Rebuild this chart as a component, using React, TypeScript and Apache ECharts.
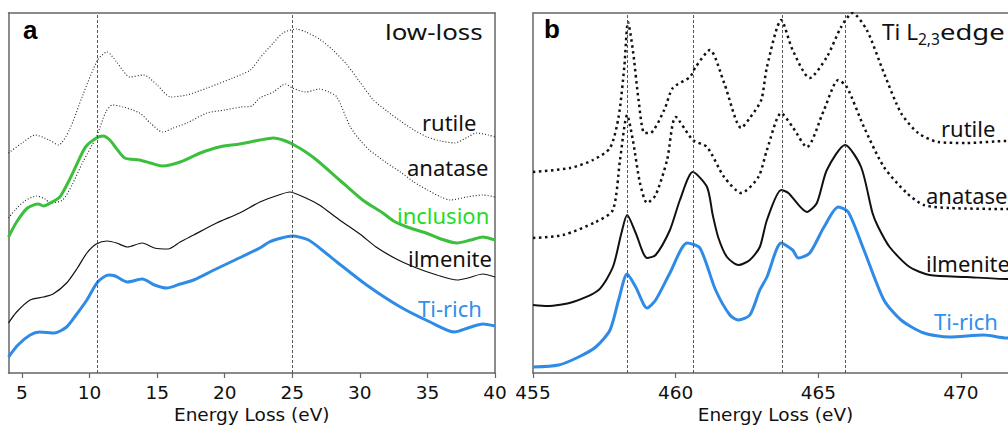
import React, { useEffect, useRef } from "react";
import * as echarts from "echarts";

// ---------- Panel a: low-loss (Energy Loss eV, intensity a.u.) ----------
const lowLossTicks = [5, 10, 15, 20, 25, 30, 35, 40];
const lowLossMarks = [10.6, 25.0];

const aRutile = [
  [4, 220], [5, 230], [6, 238], [7, 233], [7.7, 228], [8.5, 243], [9.5, 278], [10.6, 313],
  [11.3, 321], [12, 311], [13, 296], [14, 298], [15, 288], [16, 276], [17.2, 278], [18.7, 285],
  [20.6, 295], [21.9, 303], [22.6, 315], [23.6, 330], [24.3, 340], [25.3, 344], [26, 341],
  [27, 334], [28, 323], [29, 309], [30, 291], [31, 273], [32, 262], [33, 252], [34, 243],
  [35, 236], [36, 232], [37, 230], [38, 236], [38.6, 240], [39.5, 238], [40, 236],
];
const aAnatase = [
  [4, 155], [4.5, 163], [5.2, 172], [6.1, 177], [6.7, 174], [7.1, 170], [8, 173], [8.7, 188],
  [9.5, 211], [10.5, 236], [11.2, 261], [11.7, 268], [12.5, 266], [13.7, 260], [14.5, 250],
  [15.4, 241], [16.2, 245], [17.2, 250], [18.7, 260], [20, 263], [21.2, 266], [22, 267],
  [22.6, 275], [23.6, 281], [24.5, 289], [25, 285], [26, 281], [27, 284], [27.7, 281],
  [28.3, 276], [29.3, 246], [30, 233], [30.7, 223], [32, 210], [33, 201], [34, 191], [35, 183],
  [36, 176], [36.7, 173], [37.9, 176], [39.1, 178], [40, 176],
];
const aInclusion = [
  [4, 136], [4.6, 151], [5.4, 165], [6.2, 169], [6.6, 167], [7.1, 170], [7.8, 176], [8.5, 193],
  [9.1, 210], [9.7, 226], [10.5, 235], [11.0, 237], [11.5, 233], [11.9, 226], [12.6, 215],
  [13.7, 213], [14.5, 210], [15.4, 207], [16.7, 211], [18.2, 220], [19.6, 226], [21.1, 229],
  [22.6, 233], [23.6, 235], [24.3, 233], [25.0, 229], [26, 221], [26.8, 213], [28.5, 193],
  [30.2, 173], [31.7, 160], [32.5, 152], [33.5, 146], [34.9, 140], [36, 134], [37.2, 130],
  [38.2, 133], [39.1, 136], [40, 133],
];
const aIlmenite = [
  [4, 50], [4.6, 61], [5.6, 73], [6.6, 76], [7.3, 79], [8.3, 90], [9.1, 105], [9.8, 120],
  [10.5, 129], [11.3, 132], [12, 130], [12.8, 126], [13.9, 130], [14.8, 125], [15.8, 124],
  [16.7, 131], [17.7, 138], [19.4, 150], [21.1, 160], [22.6, 171], [24, 178], [24.8, 181],
  [26, 175], [27, 168], [28.5, 153], [30, 139], [31.2, 126], [32.7, 114], [34.2, 105],
  [35.7, 98], [37.2, 93], [38, 95], [39.1, 99], [40, 96],
];
const aTiRich = [
  [4, 16], [4.7, 28], [5.6, 38], [6.3, 41], [7.4, 40], [8.3, 46], [9, 58], [9.8, 73],
  [10.6, 91], [11.4, 98], [11.9, 97], [12.8, 91], [13.9, 94], [14.8, 88], [15.7, 85],
  [16.7, 89], [17.7, 93], [19.2, 103], [20.6, 112], [22.6, 125], [23.3, 131], [24.2, 135],
  [25.0, 137], [26.2, 133], [27.2, 123], [28.3, 111], [30.5, 88], [33, 66], [35.2, 51],
  [37, 41], [38, 45], [39.1, 49], [40, 47],
];

// ---------- Panel b: Ti L2,3 edge ----------
const edgeTicks = [455, 460, 465, 470];
const edgeMarks = [458.31, 460.62, 463.72, 465.94];

const bRutile = [
  [455, 201], [456.3, 205], [457.1, 213], [457.7, 225], [458.0, 256], [458.2, 306],
  [458.33, 351], [458.5, 323], [458.7, 273], [458.9, 240], [459.1, 240], [459.6, 263],
  [459.9, 285], [460.5, 296], [460.7, 306], [461.2, 323], [461.7, 290], [462.3, 245],
  [462.6, 255], [463.0, 273], [463.2, 306], [463.7, 353], [464.1, 323], [464.7, 295],
  [465.3, 316], [465.8, 346], [466.2, 360], [466.7, 343], [467.3, 300], [467.9, 260],
  [468.5, 240], [469.2, 231], [470.2, 230], [471.6, 232], [472, 232],
];
const bAnatase = [
  [455, 135], [456.05, 138], [457.2, 151], [457.8, 163], [458.05, 213], [458.3, 258],
  [458.5, 233], [458.75, 190], [459.0, 170], [459.3, 178], [459.7, 213], [460.0, 256],
  [460.6, 233], [461.1, 226], [461.7, 196], [462.3, 180], [462.9, 196], [463.2, 223],
  [463.7, 260], [464.1, 246], [464.6, 226], [465.2, 263], [465.7, 293], [466.0, 286],
  [466.6, 246], [467.3, 206], [468.1, 180], [468.7, 168], [469.6, 165], [471.6, 164], [472, 164],
];
const bIlmenite = [
  [455, 68], [455.5, 67], [456.4, 71], [457.3, 83], [457.8, 106], [458.1, 140], [458.3, 158],
  [458.6, 140], [459.0, 115], [459.3, 118], [459.8, 143], [460.15, 173], [460.6, 201],
  [461.1, 186], [461.3, 158], [461.5, 135], [461.8, 116], [462.2, 108], [462.6, 113],
  [462.95, 126], [463.2, 153], [463.7, 183], [463.95, 180], [464.6, 161], [464.95, 170],
  [465.3, 203], [465.94, 228], [466.5, 206], [466.9, 160], [467.1, 146], [467.5, 126],
  [468.2, 106], [468.9, 98], [470.2, 96], [471.6, 94], [472, 94],
];
const bTiRich = [
  [455, 6], [455.9, 8], [456.6, 16], [457.2, 26], [457.7, 43], [458.0, 73], [458.3, 99],
  [458.6, 86], [459.0, 65], [459.3, 73], [459.8, 100], [460.4, 130], [460.85, 125],
  [461.4, 83], [461.9, 58], [462.2, 53], [462.6, 58], [462.95, 83], [463.2, 96], [463.7, 130],
  [464.1, 123], [464.3, 115], [464.7, 120], [465.2, 146], [465.7, 166], [466.05, 161],
  [466.6, 123], [467.3, 73], [467.9, 53], [468.7, 40], [469.6, 36], [470.8, 38], [471.6, 35], [472, 35],
];

const FRAME = "#666";
const GREEN_LINE = "#3cbf3c";
const GREEN_TEXT = "#22dd22";
const BLUE_LINE = "#2f8be6";
const BLUE_TEXT = "#2f90ee";
const LABEL_FONT = "'Noto Sans', 'Open Sans', sans-serif";
const TICK_FONT = "'DejaVu Sans', sans-serif";

export default function App() {
  const ref = useRef<HTMLDivElement>(null);
  useEffect(() => {
    if (!ref.current) return;
    const chart = echarts.init(ref.current, null, { renderer: "svg" });

    const bottomAxis = (gridIndex: number, min: number, max: number, ticks: number[]) => ({
      type: "value",
      gridIndex,
      min,
      max,
      position: "bottom",
      name: "Energy Loss (eV)",
      nameLocation: "middle",
      nameGap: 32,
      nameMoveOverlap: false,
      nameTextStyle: { fontFamily: TICK_FONT, fontSize: 18.5, color: "#111" },
      axisLine: { show: true, onZero: false, lineStyle: { color: FRAME, width: 1.5 } },
      axisTick: { show: true, length: 5, inside: false, customValues: ticks, lineStyle: { color: FRAME, width: 1.2 } },
      axisLabel: { show: true, customValues: ticks, margin: 10, fontFamily: TICK_FONT, fontSize: 18.5, color: "#111", showMinLabel: true, showMaxLabel: true, hideOverlap: false },
      splitLine: { show: false },
    });
    const topAxis = (gridIndex: number, min: number, max: number) => ({
      type: "value",
      gridIndex,
      min,
      max,
      position: "top",
      axisLine: { show: true, onZero: false, lineStyle: { color: FRAME, width: 1.5 } },
      axisTick: { show: false },
      axisLabel: { show: false },
      splitLine: { show: false },
    });
    const yAx = (gridIndex: number, position: string, show: boolean) => ({
      type: "value",
      gridIndex,
      min: 0,
      max: 360,
      position,
      axisLine: { show, onZero: false, lineStyle: { color: FRAME, width: 1.5 } },
      axisTick: { show: false },
      axisLabel: { show: false },
      splitLine: { show: false },
    });

    const markLine = (vals: number[]) => ({
      silent: true,
      symbol: "none",
      label: { show: false },
      lineStyle: { type: [3, 2], color: "#444", width: 0.9 },
      data: vals.map((v) => ({ xAxis: v })),
    });

    const line = (data: number[][], xi: number, yi: number, color: string, width: number, type: any, extra: any = {}) => ({
      type: "line",
      data,
      xAxisIndex: xi,
      yAxisIndex: yi,
      showSymbol: false,
      smooth: 0.25,
      lineStyle: { color, width, type, cap: "butt" },
      z: 3,
      ...extra,
    });

    const txt = (text: string, x: number, y: number, color = "#111", fontSize = 22, scaleX = 1) => ({
      type: "text",
      x,
      y,
      scaleX,
      style: { text, fill: color, fontSize, fontFamily: LABEL_FONT, verticalAlign: "middle", align: "left" },
      z: 10,
    });

    chart.setOption({
      animation: false,
      backgroundColor: "#fff",
      grid: [
        { left: 8.5, top: 13, width: 486.5, height: 360, containLabel: false, outerBoundsMode: "none" },
        { left: 533, top: 13, width: 485, height: 360, containLabel: false, outerBoundsMode: "none" },
      ],
      xAxis: [
        bottomAxis(0, 4, 40, lowLossTicks),
        topAxis(0, 4, 40),
        bottomAxis(1, 455, 472, edgeTicks),
        topAxis(1, 455, 472),
      ],
      yAxis: [yAx(0, "left", true), yAx(0, "right", true), yAx(1, "left", true)],
      series: [
        line(aRutile, 0, 0, "#222", 1.1, [1, 2], { markLine: markLine(lowLossMarks) }),
        line(aAnatase, 0, 0, "#222", 1.1, [1, 2]),
        line(aInclusion, 0, 0, GREEN_LINE, 3, "solid"),
        line(aIlmenite, 0, 0, "#111", 1.2, "solid"),
        line(aTiRich, 0, 0, BLUE_LINE, 3, "solid"),
        line(bRutile, 2, 2, "#111", 2.5, [2.5, 3.5], { markLine: markLine(edgeMarks) }),
        line(bAnatase, 2, 2, "#111", 2.5, [2.5, 3.5]),
        line(bIlmenite, 2, 2, "#111", 2, "solid"),
        line(bTiRich, 2, 2, BLUE_LINE, 3, "solid"),
      ],
      graphic: [
        {
          type: "text", x: 23, y: 30, z: 10,
          style: { text: "a", fill: "#000", fontFamily: "'Liberation Sans', Arial, sans-serif", fontSize: 26, fontWeight: "bold", verticalAlign: "middle" },
        },
        {
          type: "text", x: 544, y: 29, z: 10,
          style: { text: "b", fill: "#000", fontFamily: "'Liberation Sans', Arial, sans-serif", fontSize: 26, fontWeight: "bold", verticalAlign: "middle" },
        },
        txt("low-loss", 385, 31, "#111", 22.5, 1.15),
        txt("rutile", 422, 122),
        txt("anatase", 407, 167),
        txt("inclusion", 397, 215, GREEN_TEXT),
        txt("ilmenite", 408, 258),
        txt("Ti-rich", 418, 308, BLUE_TEXT),
        txt("Ti L", 882, 31, "#111", 22.5),
        txt("2,3", 918, 39, "#111", 15.5),
        txt("edge", 940, 31, "#111", 22.5, 1.22),
        txt("rutile", 941, 128),
        txt("anatase", 926, 195),
        txt("ilmenite", 926, 263),
        txt("Ti-rich", 934, 321, BLUE_TEXT),
      ],
    });
    return () => chart.dispose();
  }, []);
  return (
    <div
      ref={ref}
      style={{ position: "fixed", left: 0, top: 0, width: 1008, height: 425, background: "#fff", overflow: "hidden" }}
    />
  );
}
